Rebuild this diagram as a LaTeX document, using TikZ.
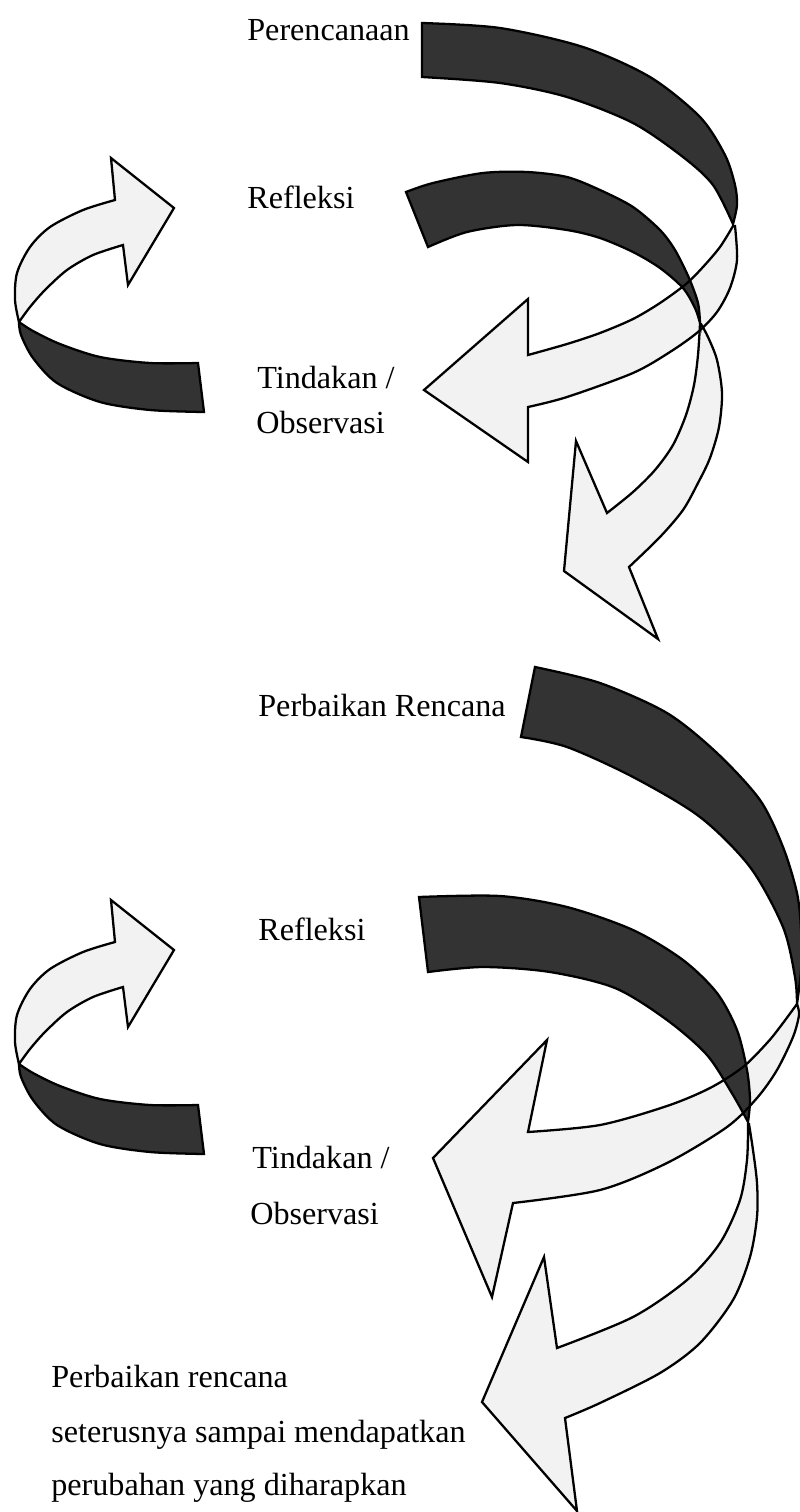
\documentclass[tikz,border=0pt]{standalone}
\usepackage{fontspec}
\setmainfont{Liberation Serif}
\usepackage{tikz}

% ribbon outlines (pixel grid of the page, y pointing down)
\newcommand{\darkA}{(422,23) -- (422,77)
  -- plot[smooth] coordinates {(422,77) (500,83) (567,97) (633,123) (683,157) (713,185) (733,224)}
  -- plot[smooth] coordinates {(733,224) (737,205) (735,185) (725,155) (700,117) (650,77) (583,47) (500,28) (422,23)}
  -- cycle}
\newcommand{\lightA}{(733,226)
  -- plot[smooth] coordinates {(733,226) (720,247) (703,267) (686,284) (660,303) (633,319) (600,333) (567,344) (528,355)}
  -- (528,299) -- (424,390) -- (528,462) -- (528,407)
  -- plot[smooth] coordinates {(528,407) (567,397) (633,373) (670,352) (698,332) (717,312) (730,288) (737,260) (735,226)}
  -- cycle}
\newcommand{\darkB}{(406,192) -- (428,247)
  -- plot[smooth] coordinates {(428,247) (467,232) (517,225) (567,230) (600,238) (633,252) (660,268) (683,288) (695,308) (700,323)}
  -- plot[smooth] coordinates {(700,323) (698,303) (689,278) (675,250) (660,230) (633,207) (600,190) (567,177) (527,172) (483,173) (433,183) (406,192)}
  -- cycle}
\newcommand{\lightB}{(700,324)
  -- plot[smooth] coordinates {(700,324) (698,355) (694,385) (686,415) (673,445) (655,470) (633,492) (607,513)}
  -- (576,441) -- (564,571) -- (658,639) -- (629,567)
  -- plot[smooth] coordinates {(629,567) (660,537) (683,510) (698,483) (710,458) (719,427) (722,393) (717,360) (708,337) (701,324)}
  -- cycle}
\newcommand{\lightC}{(115,200) -- (111,158) -- (174,208) -- (128,285) -- (123,245)
  -- plot[smooth] coordinates {(123,245) (93,255) (67,270) (45,290) (30,307) (19,322)}
  -- plot[smooth] coordinates {(19,322) (15,300) (17,273) (30,247) (50,227) (83,210) (115,200)}
  -- cycle}
\newcommand{\darkC}{(19,322)
  -- plot[smooth] coordinates {(19,322) (33,331) (60,344) (100,357) (150,363) (198,363)}
  -- (204,412)
  -- plot[smooth] coordinates {(204,412) (150,410) (100,402) (57,383) (33,358) (21,335) (19,322)}
  -- cycle}
\newcommand{\darkD}{(535,667) -- (521,737)
  -- plot[smooth] coordinates {(521,737) (567,747) (633,777) (700,817) (750,867) (783,927) (795,977) (797,1004)}
  -- plot[smooth] coordinates {(797,1004) (801,970) (801,930) (797,893) (783,847) (760,800) (717,753) (667,713) (600,683) (535,667)}
  -- cycle}
\newcommand{\lightD}{(797,1004)
  -- plot[smooth] coordinates {(797,1004) (780,1027) (767,1043) (743,1067) (710,1088) (667,1106) (600,1125) (528,1132)}
  -- (547,1040) -- (433,1158) -- (492,1297) -- (513,1203)
  -- plot[smooth] coordinates {(513,1203) (600,1190) (667,1163) (727,1127) (757,1098) (777,1070) (793,1037) (799,1015) (797,1004)}
  -- cycle}
\newcommand{\darkE}{(419,897) -- (428,972)
  -- plot[smooth] coordinates {(428,972) (483,967) (550,972) (615,988) (667,1020) (707,1055) (733,1095) (748,1122)}
  -- plot[smooth] coordinates {(748,1122) (750,1100) (747,1070) (737,1030) (717,993) (683,960) (633,930) (567,907) (500,896) (419,897)}
  -- cycle}
\newcommand{\lightE}{(748,1124)
  -- plot[smooth] coordinates {(748,1124) (747,1160) (740,1200) (720,1243) (687,1280) (633,1317) (557,1348)}
  -- (544,1257) -- (482,1402) -- (577,1511) -- (565,1418)
  -- plot[smooth] coordinates {(565,1418) (600,1403) (660,1373) (700,1343) (733,1300) (750,1257) (757,1217) (757,1183) (753,1150) (749,1124)}
  -- cycle}

\begin{document}
\begin{tikzpicture}[
  x=0.02cm, y=-0.02cm,
  darkrib/.style={fill=black!80},
  lightrib/.style={fill=black!5},
  outline/.style={draw=black,line width=1.3pt},
  every node/.style={font=\fontsize{18.3}{22}\selectfont,inner sep=0pt,anchor=base west}
]
  \useasboundingbox (0,0) rectangle (800,1512);

  % fills first, outlines on top
  \fill[lightrib] \lightA;
  \fill[lightrib] \lightB;
  \fill[lightrib] \lightD;
  \fill[lightrib] \lightE;
  \foreach \dy in {0,742} {
    \fill[lightrib,shift={(0,\dy)}] \lightC;
    \fill[darkrib,shift={(0,\dy)}] \darkC;
  }
  \fill[darkrib] \darkA;
  \fill[darkrib] \darkB;
  \fill[darkrib] \darkD;
  \fill[darkrib] \darkE;

  \draw[outline] \lightA;
  \draw[outline] \lightB;
  \draw[outline] \lightD;
  \draw[outline] \lightE;
  \draw[outline] \darkA;
  \draw[outline] \darkB;
  \draw[outline] \darkD;
  \draw[outline] \darkE;
  \foreach \dy in {0,742} {
    \draw[outline,shift={(0,\dy)}] \lightC;
    \draw[outline,shift={(0,\dy)}] \darkC;
  }

  \node (plan) at (247,40) {Perencanaan};
  \node (refl1) at (247,208) {Refleksi};
  \node (tind1) at (257,388) {Tindakan /};
  \node (obs1) at (256,433) {Observasi};
  \node (perb) at (258,716) {Perbaikan Rencana};
  \node (refl2) at (258,940) {Refleksi};
  \node (tind2) at (252,1168) {Tindakan /};
  \node (obs2) at (250,1224) {Observasi};
  \node (lanj1) at (51,1387) {Perbaikan rencana};
  \node (lanj2) at (51,1442) {seterusnya sampai mendapatkan};
  \node (lanj3) at (51,1495) {perubahan yang diharapkan};
\end{tikzpicture}
\end{document}
